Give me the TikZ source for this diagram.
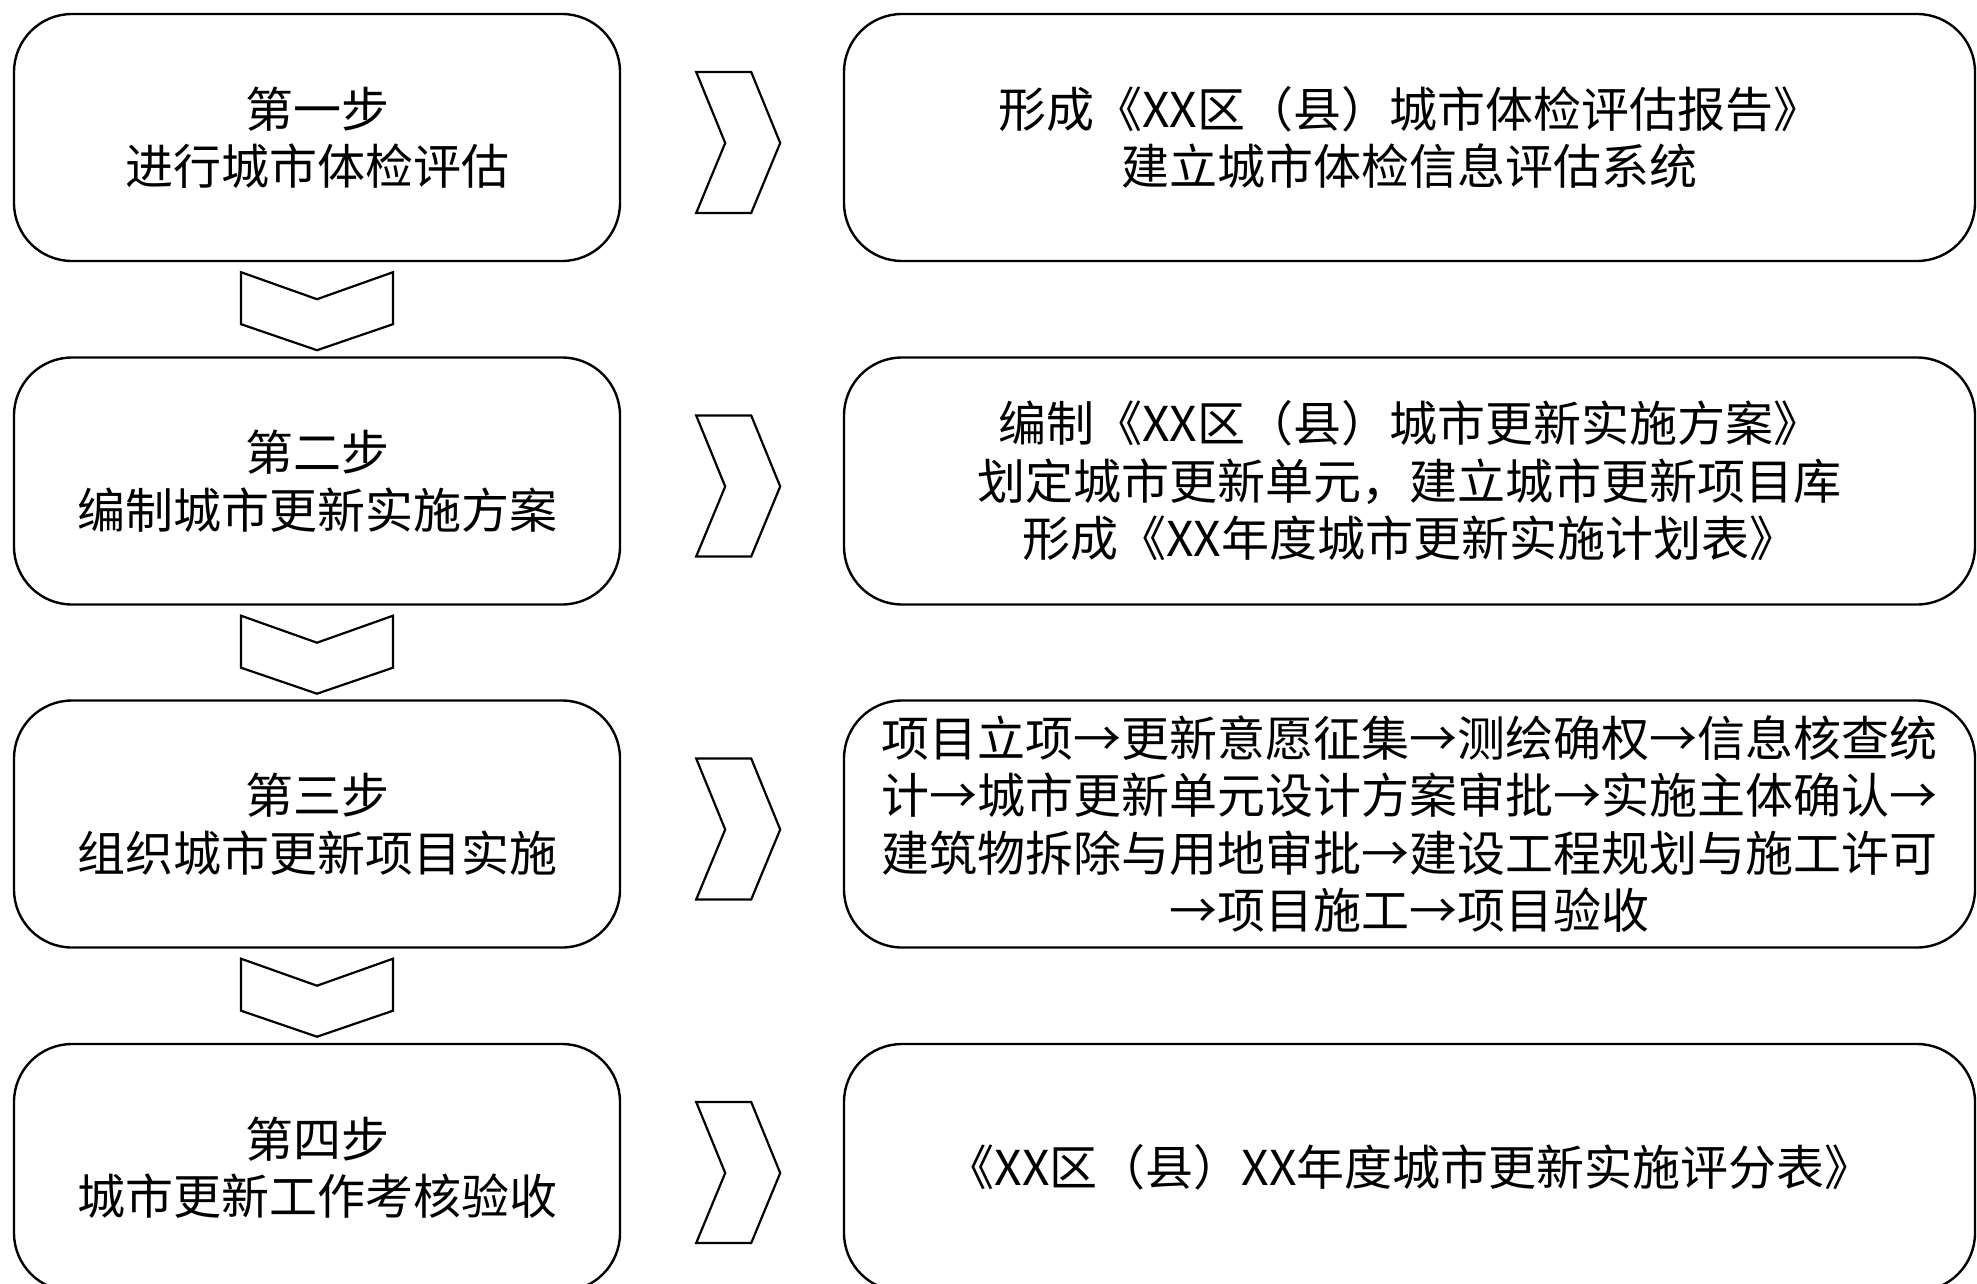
\documentclass[tikz,border=0pt]{standalone}
\usepackage{fontspec}
\newfontfamily\cjk{Noto Sans CJK SC}
\begin{document}
\begin{tikzpicture}[x=1pt,y=-1pt,
  box/.style={draw=black, line width=2.4pt, rounded corners=58pt, fill=white,
    align=center, inner sep=0pt, minimum height=247pt,
    font=\cjk\fontsize{48}{57.5}\selectfont},
  leftbox/.style={box, minimum width=606pt},
  rightbox/.style={box, minimum width=1131pt},
  chev/.style={draw=black, line width=2.2pt, line join=miter, fill=white},
  downchev/.pic={\draw[chev] (-76,0) -- (0,27) -- (76,0) -- (76,52) -- (0,78) -- (-76,52) -- cycle;},
  rightchev/.pic={\draw[chev] (0,-71) -- (55,-71) -- (84,0) -- (55,70) -- (0,70) -- (29,0) -- cycle;}
]
\useasboundingbox (0,0) rectangle (1977,1284);
\fill[white] (0,0) rectangle (1977,1284);

\node[leftbox] (s1) at (317,137.5) {第一步\\进行城市体检评估};
\node[leftbox] (s2) at (317,481) {第二步\\编制城市更新实施方案};
\node[leftbox] (s3) at (317,824) {第三步\\组织城市更新项目实施};
\node[leftbox] (s4) at (317,1167.5) {第四步\\城市更新工作考核验收};

\node[rightbox] (r1) at (1409.5,137.5) {形成《XX区（县）城市体检评估报告》\\建立城市体检信息评估系统};
\node[rightbox] (r2) at (1409.5,481) {编制《XX区（县）城市更新实施方案》\\划定城市更新单元，建立城市更新项目库\\形成《XX年度城市更新实施计划表》};
\node[rightbox] (r3) at (1409.5,824) {项目立项→更新意愿征集→测绘确权→信息核查统\\计→城市更新单元设计方案审批→实施主体确认→\\建筑物拆除与用地审批→建设工程规划与施工许可\\→项目施工→项目验收};
\node[rightbox] (r4) at (1409.5,1167.5) {《XX区（县）XX年度城市更新实施评分表》};

\path (s1.south) ++(0,10) pic {downchev};
\path (s2.south) ++(0,10) pic {downchev};
\path (s3.south) ++(0,10) pic {downchev};

\path (s1.east) ++(75,5.5) pic {rightchev};
\path (s2.east) ++(75,5.5) pic {rightchev};
\path (s3.east) ++(75,5.5) pic {rightchev};
\path (s4.east) ++(75,5.5) pic {rightchev};
\end{tikzpicture}
\end{document}
